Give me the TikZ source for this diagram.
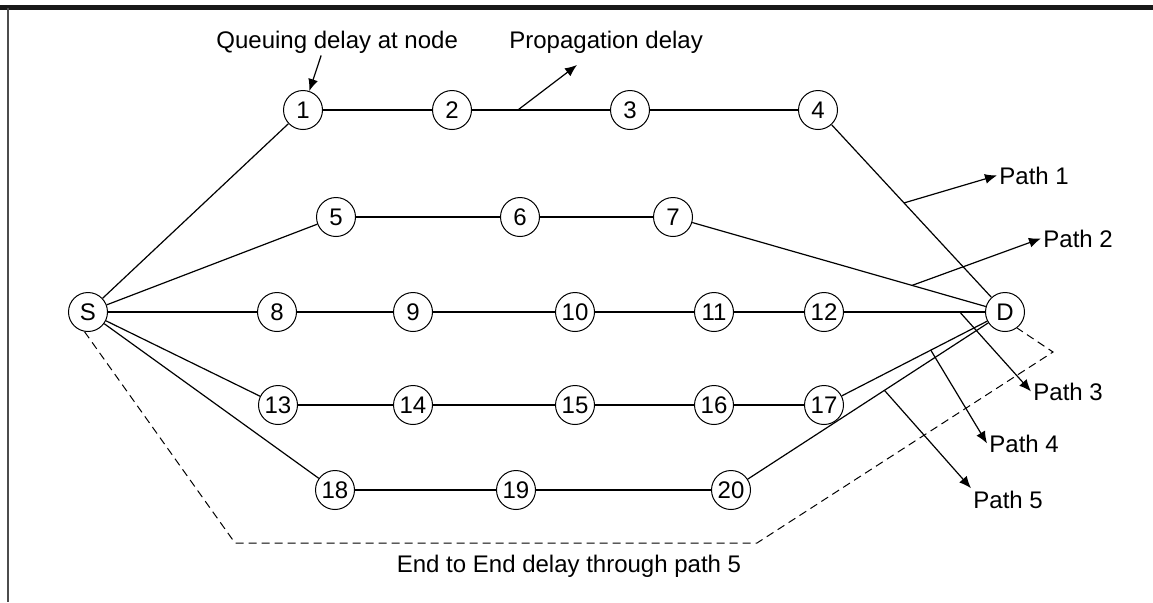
\documentclass[tikz,border=0pt]{standalone}
\usepackage{fontspec}
\setmainfont{Liberation Sans}
\usetikzlibrary{arrows.meta,calc}

\begin{document}
\begin{tikzpicture}[x=0.5pt, y=-0.5pt,
every node/.style={%anchor=base,
    inner sep=1pt, font=\fontsize{12}{14}\selectfont
    },
hop/.style={circle, draw, line width=0.5pt, minimum size=19.5pt, inner sep=0pt},
link/.style={line width=0.6pt},
pointer/.style={line width=0.6pt, -{Latex[length=6pt,width=5pt]}},
delaybox/.style={dash pattern=on 4pt off 2.5pt, line width=0.5pt}
]
\useasboundingbox (0,0) rectangle (1153,602);
% frame
\draw[line width=2.5pt, black!90] (0,7.5) -- (1153,7.5);
\draw[line width=1pt, black!70] (7.5,7.5) -- (7.5,602);

\foreach \n/\x/\y in {S/88/312, 1/303/110, 2/452/110, 3/630/110, 4/818/110,
                      5/336/217, 6/520/217, 7/673/217,
                      8/277/312, 9/413/312, 10/575/312, 11/714/312, 12/824/312, D/1005/312,
                      13/278/405, 14/413/405, 15/575/405, 16/714/405, 17/824/405,
                      18/335/490, 19/516/490, 20/731/490}
    \node[hop] (n\n) at (\x,\y) {\n};

\foreach \i/\j in {
                   S/1, 1/2, 2/3, 3/4, 4/D,%
                   S/5, 5/6, 6/7, 7/D,%
                   S/8, 8/9, 9/10, 10/11, 11/12, 12/D,%
                   S/13, 13/14, 14/15, 15/16, 16/17, 17/D,%
                   S/18, 20/D%
            }
    \draw [link] (n\i) -- (n\j);
\draw [line width=1.1pt] (n18) -- (n19) -- (n20);

% end to end delay of path 5
\coordinate (e1) at (235,543);
\coordinate (e2) at (757,543);
\coordinate (e3) at (1053,352);
\draw [delaybox] (nS.-100) -- (e1) -- (e2) -- (e3) -- (nD.-53);
\node[anchor=base] (e2e) at (569,572) {End to End delay through path 5};

% delays
\node[anchor=base west] (qd) at (214,48) {Queuing delay at node};
\node[anchor=base west] (pd) at (507,48) {Propagation delay};
\draw [pointer] ([xshift=-8pt]qd.south) -- (n1);
\coordinate (pa) at ($(n2)!.37!(n3)$);
\coordinate (pt) at (577,65);
\draw [pointer] (pa) -- (pt);

% paths
\node[anchor=base west] (lp1) at (997,184) {Path 1};
\node[anchor=base west] (lp2) at (1041,247) {Path 2};
\node[anchor=base west] (lp3) at (1031,400) {Path 3};
\node[anchor=base west] (lp4) at (987,452) {Path 4};
\node[anchor=base west] (lp5) at (971,508) {Path 5};
\coordinate (a1) at ($(n4)!.46!(nD)$);
\coordinate (a2) at ($(n7)!.72!(nD)$);
\coordinate (a3) at ($(n12)!.75!(nD)$);
\coordinate (a4) at ($(n17)!.59!(nD)$);
\coordinate (a5) at ($(n20)!.56!(nD)$);
\draw [pointer] (a1) -- (lp1.west);
\draw [pointer] (a2) -- (lp2.west);
\draw [pointer] (a3) -- (lp3.west);
\draw [pointer] (a4) -- (lp4.west);
\draw [pointer] (a5) -- (lp5.north west);

\end{tikzpicture}
\end{document}
